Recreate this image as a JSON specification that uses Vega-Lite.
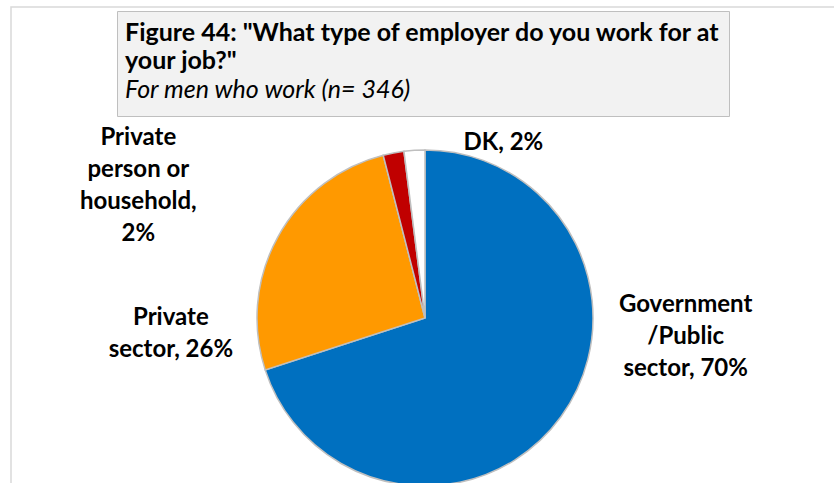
{
  "$schema": "https://vega.github.io/schema/vega-lite/v6.json",
  "background": "white",
  "padding": {"left": 10, "top": -2, "right": 0, "bottom": 0},
  "columns": 1,
  "align": "none",
  "spacing": -119,
  "concat": [
    {
      "hconcat": [
        {
          "width": 106,
          "height": 105,
          "view": {"stroke": null, "fill": null},
          "data": {"values": [{}]},
          "mark": {"type": "text"},
          "encoding": {"text": {"value": ""}}
        },
        {
          "width": 612,
          "height": 105,
          "view": {"fill": "#F2F2F2", "stroke": "#BFBFBF", "strokeWidth": 1},
          "title": {
            "text": ["Figure 44: \"What type of employer do you work for at", "your job?\""],
            "subtitle": "For men who work (n= 346)",
            "anchor": "start",
            "frame": "group",
            "orient": "top",
            "offset": -91.5,
            "dx": 8,
            "font": "Lato",
            "fontSize": 25,
            "fontWeight": "bold",
            "lineHeight": 28.5,
            "color": "#000000",
            "subtitleFont": "Lato",
            "subtitleFontSize": 25,
            "subtitleFontStyle": "italic",
            "subtitleFontWeight": "normal",
            "subtitleColor": "#000000",
            "subtitlePadding": 3.5
          },
          "data": {"values": [{}]},
          "mark": {"type": "text"},
          "encoding": {"text": {"value": ""}}
        }
      ],
      "spacing": 0,
      "bounds": "flush"
    },
    {
      "width": 828,
      "height": 622,
      "view": {"stroke": "#D9D9D9", "strokeWidth": 1.5, "fill": null},
      "data": {
        "values": [
          {"category": "Government/Public sector", "value": 70, "rank": 1, "label": "Government\n/Public\nsector, 70%"},
          {"category": "Private sector", "value": 26, "rank": 2, "label": "Private\nsector, 26%"},
          {"category": "Private person or household", "value": 2, "rank": 3, "label": "Private\nperson or\nhousehold,\n2%"},
          {"category": "DK", "value": 2, "rank": 4, "label": "DK, 2%"}
        ]
      },
      "encoding": {
        "theta": {"field": "value", "type": "quantitative", "stack": true},
        "order": {"field": "rank", "type": "quantitative"},
        "color": {
          "field": "category",
          "type": "nominal",
          "scale": {
            "domain": ["Government/Public sector", "Private sector", "Private person or household", "DK"],
            "range": ["#0070C0", "#FF9900", "#C00000", "#FFFFFF"]
          },
          "legend": null
        }
      },
      "layer": [
        {
          "mark": {"type": "arc", "radius": 168, "stroke": "#BFBFBF", "strokeWidth": 1.5}
        },
        {
          "mark": {"type": "text", "radius": 185, "dx": 111, "dy": -122, "font": "Lato", "fontSize": 24, "fontWeight": "bold", "lineHeight": 32, "lineBreak": "\n", "align": "center", "baseline": "middle"},
          "encoding": {
            "text": {"condition": {"test": "datum.category === 'Government/Public sector'", "field": "label"}, "value": ""},
            "color": {"value": "#000000"}
          }
        },
        {
          "mark": {"type": "text", "radius": 185, "dx": -92, "dy": 89, "font": "Lato", "fontSize": 24, "fontWeight": "bold", "lineHeight": 32, "lineBreak": "\n", "align": "center", "baseline": "middle"},
          "encoding": {
            "text": {"condition": {"test": "datum.category === 'Private sector'", "field": "label"}, "value": ""},
            "color": {"value": "#000000"}
          }
        },
        {
          "mark": {"type": "text", "radius": 185, "dx": -252, "dy": 2, "font": "Lato", "fontSize": 24, "fontWeight": "bold", "lineHeight": 32, "lineBreak": "\n", "align": "center", "baseline": "middle"},
          "encoding": {
            "text": {"condition": {"test": "datum.category === 'Private person or household'", "field": "label"}, "value": ""},
            "color": {"value": "#000000"}
          }
        },
        {
          "mark": {"type": "text", "radius": 185, "dx": 90, "dy": 10, "font": "Lato", "fontSize": 24, "fontWeight": "bold", "lineHeight": 32, "lineBreak": "\n", "align": "center", "baseline": "middle"},
          "encoding": {
            "text": {"condition": {"test": "datum.category === 'DK'", "field": "label"}, "value": ""},
            "color": {"value": "#000000"}
          }
        }
      ]
    }
  ]
}
